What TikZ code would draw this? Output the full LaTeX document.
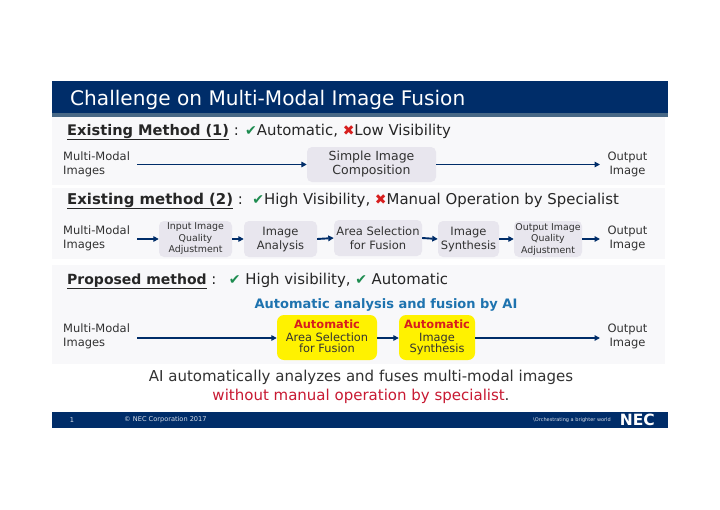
\documentclass[tikz,border=0pt]{standalone}
\usepackage{fontspec}
\setmainfont{DejaVu Sans}
\usetikzlibrary{arrows.meta}
\definecolor{navy}{RGB}{0,45,105}
\definecolor{strip}{RGB}{72,104,134}
\definecolor{panelc}{RGB}{248,248,250}
\definecolor{boxc}{RGB}{232,230,238}
\definecolor{okc}{RGB}{30,140,80}
\definecolor{noc}{RGB}{215,30,30}
\definecolor{tx}{RGB}{50,50,50}
\definecolor{bluet}{RGB}{30,115,175}
\definecolor{redt}{RGB}{200,25,50}
\tikzset{
 x=1pt,y=-1pt,
 panel/.style={fill=panelc,draw=none},
 flowbox/.style={fill=boxc,draw=none,rounded corners=5pt,align=center,inner sep=0pt,text=tx,font=\fontsize{11.5}{14}\selectfont},
 smallbox/.style={flowbox,font=\fontsize{9.4}{11.5}\selectfont},
 yelbox/.style={flowbox,fill=yellow,rounded corners=7pt,text=black!80,font=\fontsize{11.4}{11.5}\selectfont},
 label/.style={anchor=west,align=left,inner sep=0pt,text=tx,font=\fontsize{11.5}{14}\selectfont},
 outlabel/.style={align=center,inner sep=0pt,text=tx,font=\fontsize{11.5}{14}\selectfont},
 heading/.style={anchor=west,inner sep=0pt,text=black!85,font=\fontsize{14.9}{17}\selectfont},
 flow/.style={navy,line width=1.9pt,-{Triangle[length=5.5pt,width=5.5pt]}},
}
\newcommand{\okm}{{\color{okc}\fontsize{14}{16}\selectfont ✔}}
\newcommand{\nom}{{\color{noc}\fontsize{14}{16}\selectfont ✖}}
\newcommand{\hd}[1]{\textbf{\underline{#1}}}
\begin{document}
\begin{tikzpicture}
\useasboundingbox (0,0) rectangle (720,509);
\fill[white] (0,0) rectangle (720,509);
\fill[panel] (52,117) rectangle (665,185);
\fill[panel] (52,188) rectangle (665,259);
\fill[panel] (52,265) rectangle (665,364);
\fill[navy] (52,81) rectangle (668,113);
\fill[strip] (52,113) rectangle (668,117);
\fill[navy] (52,412) rectangle (668,428);
\node[anchor=west,inner sep=0pt,text=white,font=\fontsize{20.1}{23}\selectfont] (title) at (70,99.500) {Challenge on Multi-Modal Image Fusion};

\node[heading] (h1) at (67,132) {{\fontsize{14.6}{17}\selectfont\hd{Existing Method (1)}} : \okm Automatic, \nom Low Visibility};
\node[label] (a0) at (63,164) {Multi-Modal\\Images};
\node[flowbox,font=\fontsize{12.5}{14}\selectfont,minimum width=129pt,minimum height=35pt] (a1) at (371.500,164.500) {Simple Image\\Composition};
\node[outlabel] (a2) at (627.500,164) {Output\\Image};
\coordinate (a0e) at (137,164.500);
\coordinate (a2w) at (600,164.500);
\draw[flow] (a0e) -- (a1.west);
\draw[flow] (a1.east) -- (a2w);

\node[heading] (h2) at (67,201) {\hd{Existing method (2)} :\ \ \okm High Visibility, \nom Manual Operation by Specialist};
\node[label] (b0) at (63,238) {Multi-Modal\\Images};
\node[smallbox,minimum width=73pt,minimum height=36pt] (b1) at (195.500,239) {Input Image\\Quality\\Adjustment};
\node[flowbox,minimum width=73pt,minimum height=36pt] (b2) at (280.500,239) {Image\\Analysis};
\node[flowbox,minimum width=88pt,minimum height=36pt] (b3) at (378,238) {Area Selection\\for Fusion};
\node[flowbox,minimum width=61pt,minimum height=36pt] (b4) at (468.500,239) {Image\\Synthesis};
\node[smallbox,minimum width=68pt,minimum height=36pt] (b5) at (548,239) {Output Image\\Quality\\Adjustment};
\node[outlabel] (b6) at (627.500,238.500) {Output\\Image};
\coordinate (b0e) at (137,239);
\coordinate (b6w) at (600,239);
\draw[flow] (b0e) -- (b1.west);
\draw[flow] (b1.east) -- (b2.west);
\draw[flow] (b2.east) -- (b3.west);
\draw[flow] (b3.east) -- (b4.west);
\draw[flow] (b4.east) -- (b5.west);
\draw[flow] (b5.east) -- (b6w);

\node[heading] (h3) at (67,281) {{\fontsize{14}{17}\selectfont\hd{Proposed method}} :\ \ \hspace{3pt}\okm\ High visibility, \okm\ Automatic};
\node[anchor=center,inner sep=0pt,text=bluet,font=\bfseries\fontsize{13}{15}\selectfont] (auto) at (386,305) {Automatic analysis and fusion by AI};
\node[label] (c0) at (63,336.500) {Multi-Modal\\Images};
\node[yelbox,minimum width=100pt,minimum height=45pt] (c1) at (327,337.500) {\raisebox{1pt}{\textbf{\textcolor{noc}{Automatic}}}\\Area Selection\\for Fusion\vphantom{y}};
\node[yelbox,minimum width=76pt,minimum height=45pt] (c2) at (437,337.500) {\raisebox{1pt}{\textbf{\textcolor{noc}{Automatic}}}\\Image\\Synthesis\vphantom{y}};
\node[outlabel] (c3) at (627.500,336.500) {Output\\Image};
\coordinate (c0e) at (137,338);
\coordinate (c3w) at (600,338);
\draw[flow] (c0e) -- (c1.west |- c0e);
\draw[flow] (c1.east |- c0e) -- (c2.west |- c0e);
\draw[flow] (c2.east |- c0e) -- (c3w);

\node[inner sep=0pt,text=tx,font=\fontsize{15}{17}\selectfont] (s1) at (361,377.500) {AI automatically analyzes and fuses multi-modal images};
\node[inner sep=0pt,text=redt,font=\fontsize{15}{17}\selectfont] (s2) at (361,396) {without manual operation by specialist\textcolor{tx}{.}};

\node[inner sep=0pt,text=white!85!navy,font=\fontsize{6.6}{8}\selectfont] (pg) at (72,420) {1};
\node[anchor=west,inner sep=0pt,text=white!85!navy,font=\fontsize{6.6}{8}\selectfont] (cp) at (124,420) {© NEC Corporation 2017};
\node[anchor=east,inner sep=0pt,text=white!85!navy,font=\fontsize{5}{6}\selectfont] (tag) at (611,420) {\textbackslash Orchestrating a brighter world};
\node[anchor=east,inner sep=0pt,text=white,font=\bfseries\fontsize{15.5}{16}\selectfont] (nec) at (655,420) {NEC};
\end{tikzpicture}
\end{document}
